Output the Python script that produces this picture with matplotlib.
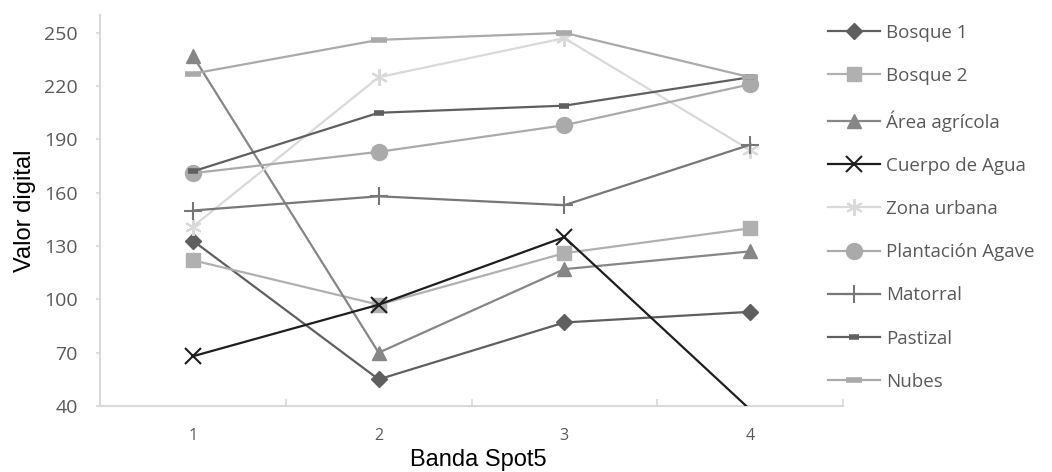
import matplotlib
matplotlib.use("Agg")
import matplotlib.pyplot as plt

# Spot5 bands and mean digital value per land cover class
bands = [1, 2, 3, 4]
band_labels = ["1", "2", "3", "4"]

bosque_1 = [133, 55, 87, 93]
bosque_2 = [122, 97, 126, 140]
area_agricola = [237, 70, 117, 127]
cuerpo_agua = [68, 97, 135, 38]
zona_urbana = [141, 225, 247, 184]
plantacion_agave = [171, 183, 198, 221]
matorral = [150, 158, 153, 187]
pastizal = [172, 205, 209, 225]
nubes = [227, 246, 250, 225]

y_ticks = [40, 70, 100, 130, 160, 190, 220, 250]

series = [
    ("Bosque 1", bosque_1, "#5f5f5f", "D", 8.5, 1.0),
    ("Bosque 2", bosque_2, "#b0b0b0", "s", 9.5, 1.0),
    ("Área agrícola", area_agricola, "#868686", "^", 10.5, 1.0),
    ("Cuerpo de Agua", cuerpo_agua, "#1e1e1e", "x", 11, 1.5),
    ("Zona urbana", zona_urbana, "#d9d9d9", (6, 2, 0), 12, 1.5),
    ("Plantación Agave", plantacion_agave, "#aaaaaa", "o", 11.5, 1.0),
    ("Matorral", matorral, "#777777", "+", 13, 1.5),
    ("Pastizal", pastizal, "#5f5f5f", "_", 7, 4.0),
    ("Nubes", nubes, "#aaaaaa", "_", 11, 4.0),
]

fig = plt.figure(figsize=(10.52, 4.72), dpi=100)
ax = fig.add_axes([0.0951, 0.1398, 0.7062, 0.8284])

for name, vals, color, mk, ms, mew in series:
    # Excel hides markers that fall outside the plot area
    visible = [i for i, v in enumerate(vals) if v >= 40]
    ax.plot(bands, vals, color=color, lw=1.6, marker=mk, markersize=ms,
            markeredgewidth=mew, markerfacecolor=color, markeredgecolor=color,
            markevery=visible, label=name, zorder=3)

ax.set_xlim(0.5, 4.5)
ax.set_ylim(40, 260)
ax.set_yticks(y_ticks)
ax.set_xticks(bands)
ax.set_xticklabels(band_labels)
ax.set_xticks([1.5, 2.5, 3.5, 4.5], minor=True)

for side in ["top", "right"]:
    ax.spines[side].set_visible(False)
for side in ["left", "bottom"]:
    ax.spines[side].set_color("#d9d9d9")
    ax.spines[side].set_linewidth(1.5)

ax.tick_params(axis="y", colors="#595959", labelsize=14, length=3,
               width=1.2, color="#d9d9d9", pad=13)
ax.tick_params(axis="x", which="major", colors="#595959", labelsize=11.5,
               length=0, pad=16)
ax.tick_params(axis="x", which="minor", direction="in", length=5,
               width=1.2, color="#d9d9d9")
for lbl in ax.get_yticklabels() + ax.get_xticklabels():
    lbl.set_family("Open Sans")

ax.set_ylabel("Valor digital", fontsize=17, family="Liberation Sans")
ax.set_xlabel("Banda Spot5", fontsize=17, family="Liberation Sans")
ax.yaxis.set_label_coords(-0.086, 0.5)
ax.xaxis.set_label_coords(0.509, -0.110)

leg = fig.legend(*ax.get_legend_handles_labels(), loc="upper left",
                 bbox_to_anchor=(0.787, 0.950), frameon=False,
                 fontsize=13.5, handlelength=2.77, handletextpad=0.32,
                 labelspacing=1.345, borderpad=0, borderaxespad=0)
for t in leg.get_texts():
    t.set_color("#595959")
    t.set_family("Open Sans")

fig.savefig("out.png", dpi=100)
